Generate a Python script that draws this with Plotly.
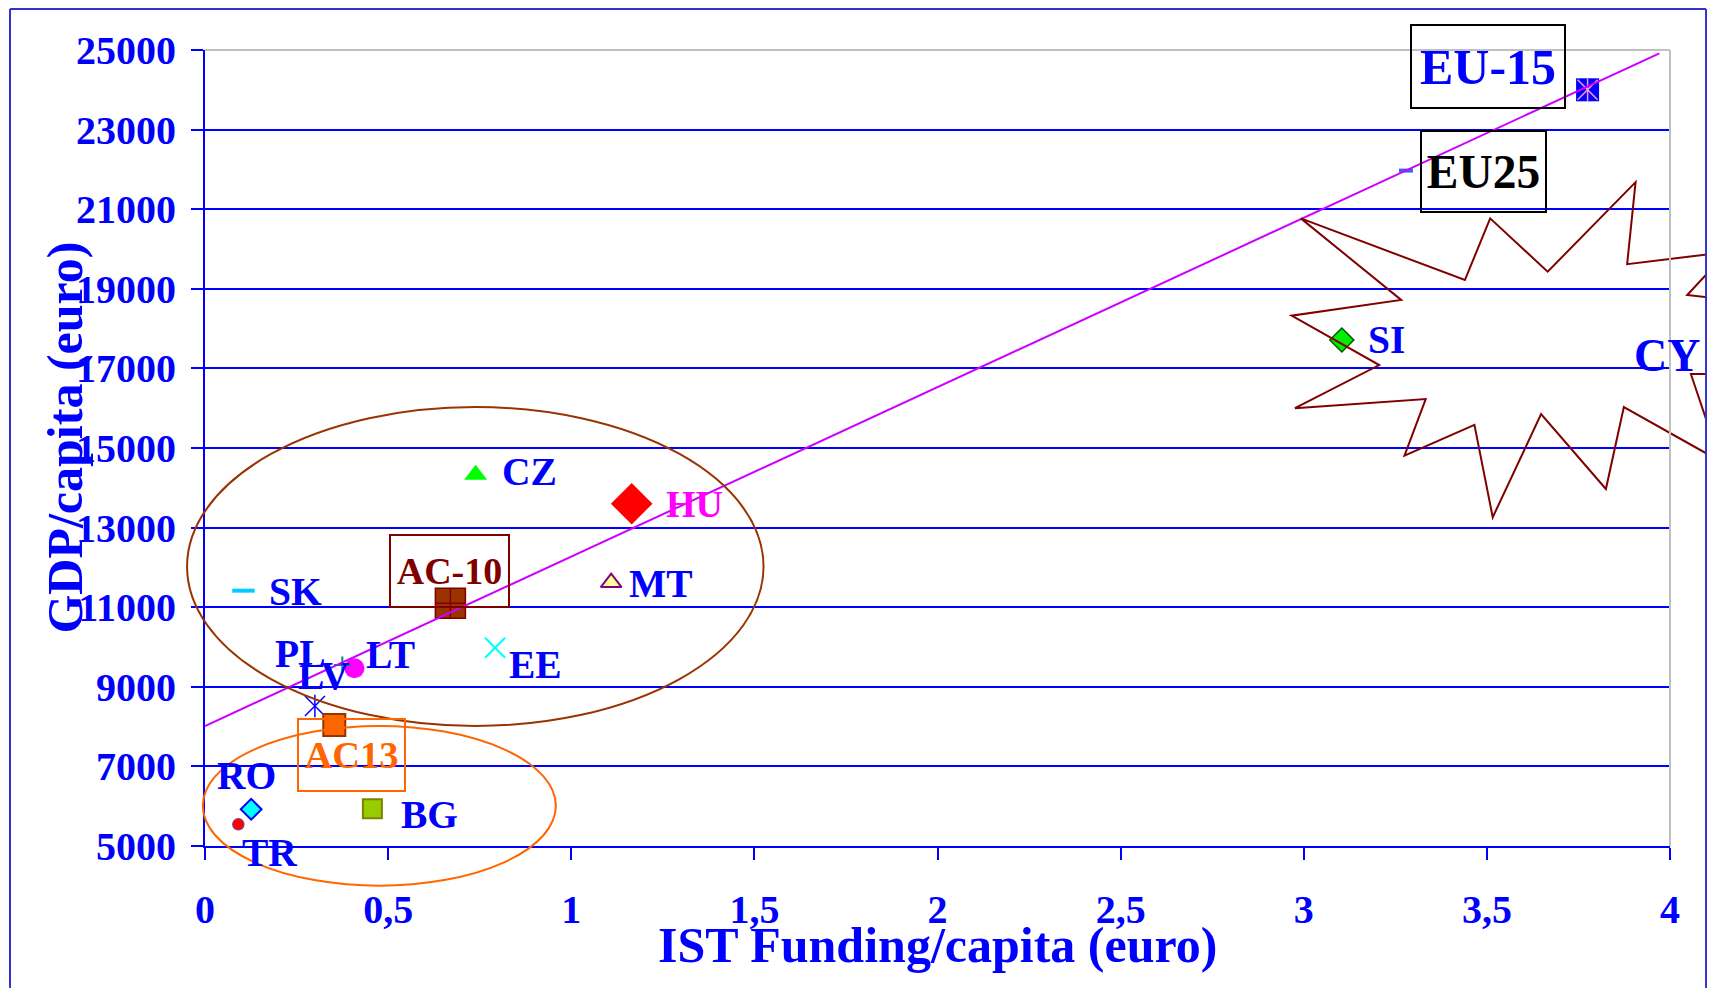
import plotly.graph_objects as go

# ---------------- data ----------------
countries = ["EU-15", "EU25", "SI", "CZ", "HU", "MT", "SK", "AC-10",
             "EE", "LT", "PL", "LV", "AC13", "RO", "TR", "BG"]
ist_funding = [3.775, 3.279, 3.104, 0.739, 1.165, 1.109, 0.105, 0.670,
               0.792, 0.408, 0.375, 0.300, 0.353, 0.126, 0.091, 0.457]
gdp_capita = [24000, 21970, 17714, 14330, 13600, 11620, 11415, 11100,
              9980, 9465, 9548, 8518, 8040, 5922, 5545, 5937]

trend_x = [0.0, 3.971]
trend_y = [8015, 24917]

x_tickvals = [0, 0.5, 1, 1.5, 2, 2.5, 3, 3.5, 4]
x_ticktext = ["0", "0,5", "1", "1,5", "2", "2,5", "3", "3,5", "4"]
y_tickvals = [5000, 7000, 9000, 11000, 13000, 15000, 17000, 19000, 21000, 23000, 25000]
y_ticktext = ["5000", "7000", "9000", "11000", "13000", "15000", "17000",
              "19000", "21000", "23000", "25000"]

x_title = "IST Funding/capita (euro)"
y_title = "GDP/capita (euro)"

# CY call-out (starburst) outline, in axis units
burst_x = [2.992, 3.440, 3.509, 3.666, 3.906, 3.883, 4.156, 4.047, 4.309, 4.105,
           4.276, 4.057, 4.137, 3.874, 3.825, 3.648, 3.516, 3.466, 3.275, 3.333,
           2.976, 3.206, 2.967, 3.266]
burst_y = [20770, 19220, 20770, 19430, 21680, 19620, 19925, 18845, 18570, 17630,
           16860, 16860, 14670, 16030, 13970, 15850, 13260, 15580, 14810, 16230,
           16000, 17085, 18325, 18720]
cy_label_pos = (3.900, 17317)

# group ellipses (axis units: x0, x1, y0, y1)
ac10_ellipse = (-0.049, 1.525, 8015, 16030)
ac13_ellipse = (-0.006, 0.958, 4003, 8015)

# ---------------- styles ----------------
SERIF = "Liberation Serif"
BLUE = "#0000FF"
X_RANGE = [0, 4]
Y_RANGE = [5000, 25000]


def xp(x):
    return (x - X_RANGE[0]) / (X_RANGE[1] - X_RANGE[0])


def yp(y):
    return (y - Y_RANGE[0]) / (Y_RANGE[1] - Y_RANGE[0])


def stroke(symbol, size, col, width):
    return dict(symbol=symbol, size=size, color=col, line=dict(color=col, width=width))


marker_styles = {
    "EU-15": [dict(symbol="square", size=23, color="#0000FF", line=dict(width=0)),
              stroke("x-thin-open", 20, "#FF99CC", 1.5),
              stroke("line-ns-open", 16, "#FF99CC", 1.5)],
    "EU25": [stroke("line-ew-open", 10, "#3366FF", 4)],
    "SI": [dict(symbol="diamond", size=18.5, color="#00EE00", line=dict(color="#005500", width=1.5))],
    "CZ": [dict(symbol="triangle-up", size=20, color="#00FF00", line=dict(width=0))],
    "HU": [dict(symbol="diamond", size=32, color="#FF0000", line=dict(width=0))],
    "MT": [dict(symbol="triangle-up", size=18, color="#FFFF99", line=dict(color="#800080", width=2))],
    "SK": [stroke("line-ew-open", 16, "#00CCFF", 4)],
    "AC-10": [dict(symbol="square-cross", size=30, color="#993300", line=dict(color="#800000", width=1.5))],
    "EE": [stroke("x-thin-open", 20, "#00FFFF", 2)],
    "LT": [dict(symbol="circle", size=20, color="#FF00FF", line=dict(width=0))],
    "PL": [stroke("cross-thin-open", 12, "#008080", 2)],
    "LV": [stroke("x-thin-open", 20, "#0000FF", 1.5),
           stroke("line-ns-open", 16, "#0000FF", 1.5)],
    "AC13": [dict(symbol="square", size=22, color="#FF6600", line=dict(color="#993300", width=2))],
    "RO": [dict(symbol="diamond", size=16, color="#00FFFF", line=dict(color="#0000FF", width=2))],
    "TR": [dict(symbol="circle", size=11, color="#FF0000", line=dict(color="#993366", width=1.5))],
    "BG": [dict(symbol="square", size=19, color="#99CC00", line=dict(color="#808000", width=2))],
}

# plain labels: name -> (xshift px, yshift px, font size, colour)
label_styles = {
    "SI": (24.8, -0.3, 39.5, BLUE),
    "CZ": (25.3, 2.5, 39.5, BLUE),
    "HU": (33.3, -0.5, 38, "#FF00FF"),
    "MT": (16.5, -1.2, 39.5, BLUE),
    "SK": (24.8, -1.3, 39.5, BLUE),
    "EE": (13.2, -16.7, 39.5, BLUE),
    "LT": (10.6, 12.8, 39.5, BLUE),
    "PL": (-68.3, 11.3, 39.5, BLUE),
    "LV": (-18.2, 30.2, 39.5, BLUE),
    "RO": (-35.0, 33.5, 39.5, BLUE),
    "TR": (2.7, -28.2, 39.5, BLUE),
    "BG": (27.6, -6.3, 39.5, BLUE),
}

# boxed labels: name -> (xshift, yshift, width, height, font size, text colour, border colour)
box_styles = {
    "EU-15": (-100.0, 23.8, 152, 81, 50, BLUE, "#000000"),
    "EU25": (77.7, -1.0, 123, 79, 47.5, "#000000", "#000000"),
    "AC-10": (-0.8, 32.3, 117, 70, 38, "#800000", "#800000"),
    "AC13": (16.9, -29.7, 105, 70, 38.5, "#FF6600", "#FF6600"),
}

fig = go.Figure()

for i, name in enumerate(countries):
    for m in marker_styles[name]:
        fig.add_trace(go.Scatter(
            x=[ist_funding[i]], y=[gdp_capita[i]], mode="markers",
            marker=m, name=name, showlegend=False, cliponaxis=False,
            hoverinfo="text", hovertext=name))

fig.add_trace(go.Scatter(x=trend_x, y=trend_y, mode="lines",
                         line=dict(color="#CC00FF", width=2),
                         showlegend=False, hoverinfo="skip"))

annotations = []
for name, (dx, dy, fs, col) in label_styles.items():
    i = countries.index(name)
    annotations.append(dict(
        x=ist_funding[i], y=gdp_capita[i], xref="x", yref="y", text=name,
        showarrow=False, xanchor="left", yanchor="middle", xshift=dx, yshift=dy,
        borderpad=0, font=dict(family=SERIF, size=fs, color=col, weight="bold")))

for name, (dx, dy, w, h, fs, col, bcol) in box_styles.items():
    i = countries.index(name)
    annotations.append(dict(
        x=ist_funding[i], y=gdp_capita[i], xref="x", yref="y", text=name,
        showarrow=False, xanchor="center", yanchor="middle", xshift=dx, yshift=dy,
        width=w, height=h, align="center", valign="middle",
        bordercolor=bcol, borderwidth=2, borderpad=0,
        font=dict(family=SERIF, size=fs, color=col, weight="bold")))

annotations.append(dict(
    x=cy_label_pos[0], y=cy_label_pos[1], xref="x", yref="y", text="CY",
    showarrow=False, xanchor="left", yanchor="middle", borderpad=0,
    font=dict(family=SERIF, size=46, color=BLUE, weight="bold")))

annotations.append(dict(
    x=0.5, y=-0.1244, xref="paper", yref="paper", text=x_title, showarrow=False,
    xanchor="center", yanchor="middle",
    font=dict(family=SERIF, size=50, color=BLUE, weight="bold")))
annotations.append(dict(
    x=-0.0956, y=0.513, xref="paper", yref="paper", text=y_title, showarrow=False,
    textangle=-90, xanchor="center", yanchor="middle",
    font=dict(family=SERIF, size=50, color=BLUE, weight="bold")))

shapes = []
for (ex0, ex1, ey0, ey1), col in [(ac10_ellipse, "#993300"), (ac13_ellipse, "#FF6600")]:
    shapes.append(dict(type="circle", xref="paper", yref="paper",
                       x0=xp(ex0), x1=xp(ex1), y0=yp(ey0), y1=yp(ey1),
                       line=dict(color=col, width=2), layer="above"))

path = "M " + " L ".join(f"{xp(a):.5f},{yp(b):.5f}" for a, b in zip(burst_x, burst_y)) + " Z"
shapes.append(dict(type="path", xref="paper", yref="paper", path=path,
                   line=dict(color="#800000", width=2), layer="above"))

# plot-area frame (top, right)
shapes.append(dict(type="line", xref="paper", yref="paper", x0=0, x1=1, y0=1, y1=1,
                   line=dict(color="#C0C0C0", width=2), layer="above"))
shapes.append(dict(type="line", xref="paper", yref="paper", x0=1, x1=1, y0=0, y1=1,
                   line=dict(color="#C0C0C0", width=2), layer="above"))
# outer chart border: left, top and right edges (the bottom edge is off the page)
BL, BR, BT, BB = -0.1331, 1.0246, 1.0515, -0.5
for (lx0, ly0, lx1, ly1) in [(BL, BB, BL, BT), (BL, BT, BR, BT), (BR, BT, BR, BB)]:
    shapes.append(dict(type="line", xref="paper", yref="paper",
                       x0=lx0, y0=ly0, x1=lx1, y1=ly1,
                       line=dict(color="#3333CC", width=2), layer="above"))

# the page adds an 8 px body margin: the figure is sized to fill the window exactly
fig.update_layout(
    width=1699, height=980,
    margin=dict(l=197, r=37, t=42, b=142),
    paper_bgcolor="white", plot_bgcolor="white",
    showlegend=False,
    annotations=annotations, shapes=shapes,
    xaxis=dict(range=X_RANGE, tickvals=x_tickvals, ticktext=x_ticktext,
               showgrid=False, zeroline=False, showline=True, linecolor=BLUE,
               linewidth=2, ticks="outside", ticklen=12, tickwidth=2, tickcolor=BLUE,
               ticklabelstandoff=15,
               tickfont=dict(family=SERIF, size=40, color=BLUE, weight="bold")),
    yaxis=dict(range=Y_RANGE, tickvals=y_tickvals, ticktext=y_ticktext,
               showgrid=True, gridcolor=BLUE, gridwidth=2, zeroline=False,
               showline=True, linecolor=BLUE, linewidth=2, ticks="outside",
               ticklen=12, tickwidth=2, tickcolor=BLUE, ticklabelstandoff=7,
               tickfont=dict(family=SERIF, size=40, color=BLUE, weight="bold")),
)

fig.write_html("out.html")
